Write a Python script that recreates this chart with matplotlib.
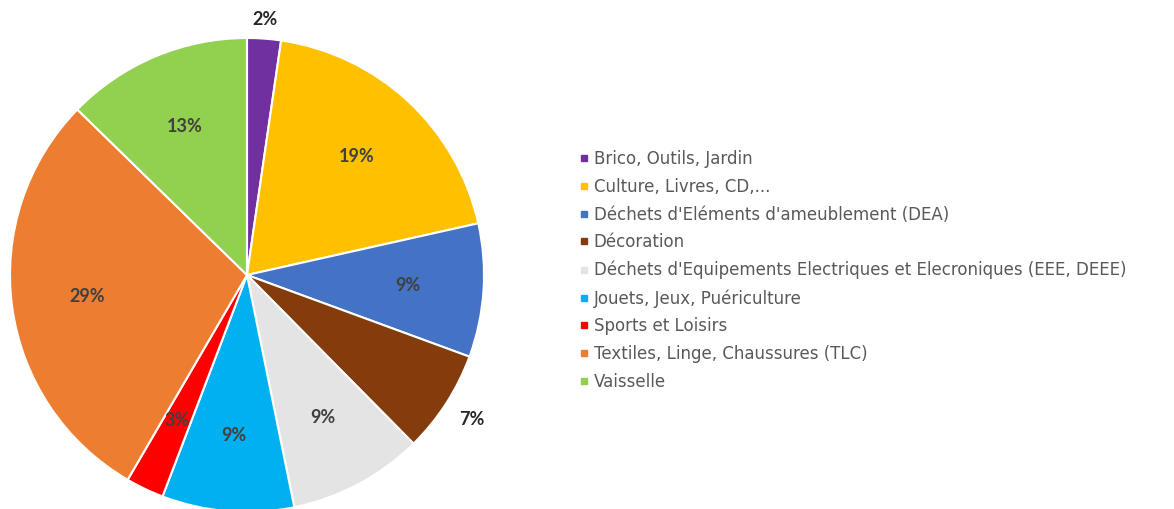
import matplotlib.pyplot as plt
from matplotlib.lines import Line2D
import numpy as np

categories = ["Brico, Outils, Jardin",
              "Culture, Livres, CD,...",
              "Déchets d'Eléments d'ameublement (DEA)",
              "Décoration",
              "Déchets d'Equipements Electriques et Elecroniques (EEE, DEEE)",
              "Jouets, Jeux, Puériculture",
              "Sports et Loisirs",
              "Textiles, Linge, Chaussures (TLC)",
              "Vaisselle"]
shares = [2.3, 19.2, 9.1, 7.0, 9.2, 9.0, 2.6, 28.9, 12.7]
colors = ["#7030A0", "#FFC000", "#4472C4", "#843C0C", "#E4E4E4",
          "#00B0F0", "#FF0000", "#ED7D31", "#92D050"]
# slices whose label sits outside the pie -> distance from centre
outside = {0: 1.08, 3: 1.13}

plt.rcParams['font.family'] = ['Lato', 'DejaVu Sans']

fig = plt.figure(figsize=(11.74, 5.09), dpi=100)
W, H = 1174, 509
cx, cy, r = 247, 275, 237
ax = fig.add_axes([(cx - r) / W, (H - cy - r) / H, 2 * r / W, 2 * r / H])

wedges, texts, autotexts = ax.pie(
    shares, colors=colors, startangle=90, counterclock=False,
    autopct='%1.0f%%', pctdistance=0.68,
    wedgeprops=dict(edgecolor='white', linewidth=1.5),
    textprops=dict(fontsize=13, color='#404040', fontweight='bold'))
ax.set_xlim(-1, 1)
ax.set_ylim(-1, 1)

for i, d in outside.items():
    w = wedges[i]
    ang = np.deg2rad((w.theta1 + w.theta2) / 2)
    autotexts[i].set_position((d * np.cos(ang), d * np.sin(ang)))
    autotexts[i].set_color('#262626')

handles = [Line2D([0], [0], marker='s', linestyle='none', markersize=5,
                  markerfacecolor=c, markeredgecolor=c) for c in colors]
leg = fig.legend(handles, categories, loc='upper left',
                 bbox_to_anchor=(571 / W, 1 - 142 / H), frameon=False,
                 prop=dict(family='DejaVu Sans', size=12),
                 labelcolor='#595959', handlelength=0.55,
                 handletextpad=0.3, labelspacing=0.58, borderpad=0)

fig.savefig('out.png', dpi=100)
